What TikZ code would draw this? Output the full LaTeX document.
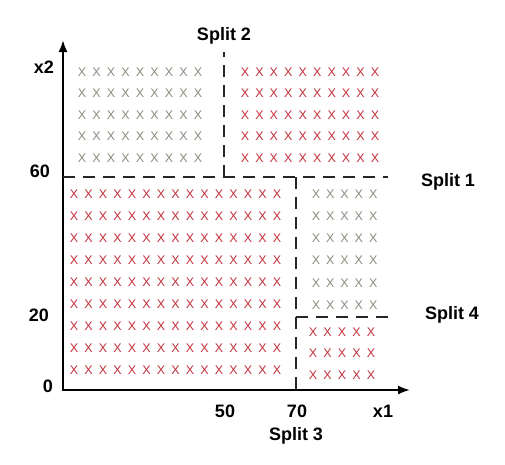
\documentclass[tikz,border=0pt]{standalone}
\usepackage{fontspec}
\setmainfont{Liberation Sans}
\usepackage{tikz}
\usetikzlibrary{arrows.meta}

\definecolor{xred}{HTML}{C4303C}
\definecolor{xgray}{HTML}{8C8C7E}
\tikzset{
  lbl/.style={font=\bfseries\fontsize{18}{18}\selectfont, inner sep=0pt, anchor=base},
  redx/.style={text=xred, font=\fontsize{12.5}{12.5}\selectfont, inner sep=0pt},
  grayx/.style={text=xgray, font=\fontsize{12.5}{12.5}\selectfont, inner sep=0pt},
  splitline/.style={line width=2pt, dash pattern=on 12pt off 8pt, black!85},
  axis/.style={line width=2pt, -{Latex[length=12pt,width=9pt]}}
}

\begin{document}
\begin{tikzpicture}[x=1pt,y=-1pt]
			\useasboundingbox (0,0) rectangle (505,464);
			% axes
			\coordinate (o) at (63,390);
			\coordinate (ytop) at (63,40);
			\coordinate (xend) at (410,390);
			\draw[axis] (63,391) -- (ytop);
			\draw[axis] (62,390) -- (xend);
			% splits
			\coordinate (s1a) at (63,177);
			\coordinate (s1b) at (388,177);
			\coordinate (s2a) at (224,177);
			\coordinate (s2b) at (224,52);
			\coordinate (s3a) at (296,177);
			\coordinate (s3b) at (296,390);
			\coordinate (s4a) at (296,317);
			\coordinate (s4b) at (390,317);
			\draw[splitline] (s1a) -- (s1b);
			\draw[splitline] (s2a) -- (s2b);
			\draw[splitline] (s3a) -- (s3b);
			\draw[splitline] (s4a) -- (s4b);
			% crosses
			\foreach \i in {0,...,8}
			\foreach \j in {0,...,4}
			\node[grayx] (tl-\i-\j) at ({82+14.5*\i},{72+21.5*\j}) {X};
			\foreach \i in {0,...,9}
			\foreach \j in {0,...,4}
			\node[redx] (tr-\i-\j) at ({245+14.45*\i},{72+21.5*\j}) {X};
			\foreach \i in {0,...,14}
			\foreach \j in {0,...,8}
			\node[redx] (bl-\i-\j) at ({74+14.5*\i},{194+22*\j}) {X};
			\foreach \i in {0,...,4}
			\foreach \j in {0,...,5}
			\node[grayx] (rm-\i-\j) at ({316+14.3*\i},{194+22.2*\j}) {X};
			\foreach \i in {0,...,4}
			\foreach \j in {0,...,2}
			\node[redx] (br-\i-\j) at ({313+14.5*\i},{332+21.5*\j}) {X};
			% labels
			\node[lbl] (split2) at (224,40) {Split 2};
			\node[lbl] (split1) at (448,186) {Split 1};
			\node[lbl] (split4) at (452,319) {Split 4};
			\node[lbl] (split3) at (296,440) {Split 3};
			\node[lbl] (x2) at (44,73) {x2};
			\node[lbl] (y60) at (40,177) {60};
			\node[lbl] (y20) at (39,321) {20};
			\node[lbl] (y0) at (48,392) {0};
			\node[lbl] (x50) at (225,417) {50};
			\node[lbl] (x70) at (297,417) {70};
			\node[lbl] (x1) at (383,417) {x1};
		\end{tikzpicture}
\end{document}
